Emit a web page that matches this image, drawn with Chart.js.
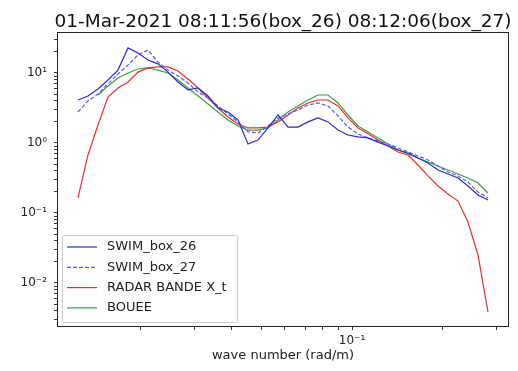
<!DOCTYPE html>
<html>
<head>
<meta charset="utf-8">
<script src="https://cdn.jsdelivr.net/npm/chart.js@4/dist/chart.umd.min.js"></script>
<style>
  body { margin: 0; background: #fff; }
  #wrap { width: 518px; height: 371px; }
</style>
</head>
<body>
<div id="wrap"><canvas id="spectreChart"></canvas></div>
<script>
// wave number grid (rad/m)
const waveNumber = [0.01238, 0.01336, 0.01442, 0.01556, 0.01679, 0.01813, 0.01956, 0.02111, 0.02278, 0.02459,
  0.02653, 0.02864, 0.03091, 0.03336, 0.0360, 0.03885, 0.04193, 0.04525, 0.04883, 0.0527,
  0.05689, 0.06139, 0.06625, 0.0715, 0.07717, 0.08328, 0.08988, 0.0970, 0.1047, 0.1130,
  0.1219, 0.1316, 0.1420, 0.1532, 0.1654, 0.1785, 0.1926, 0.2079, 0.2244, 0.2421,
  0.2613, 0.2820];

const swimBox26 = [4.11, 4.69, 5.91, 7.94, 11.0, 22.8, 19.3, 15.3, 13.5, 10.3,
  7.44, 5.72, 6.11, 4.69, 3.16, 2.77, 2.13, 0.968, 1.10, 1.64,
  2.51, 1.69, 1.69, 2.0, 2.28, 2.0, 1.53, 1.30, 1.22, 1.18,
  1.03, 0.906, 0.794, 0.72, 0.61, 0.518, 0.411, 0.361, 0.316, 0.243,
  0.181, 0.153];

const swimBox27 = [2.77, 3.98, 5.01, 6.96, 9.68, 13.0, 18.1, 21.3, 14.4, 11.0,
  9.06, 7.20, 5.35, 4.39, 3.38, 2.60, 2.0, 1.44, 1.39, 1.75,
  2.28, 2.60, 2.96, 3.49, 3.73, 3.38, 2.43, 1.69, 1.35, 1.18,
  1.07, 0.968, 0.849, 0.744, 0.652, 0.572, 0.469, 0.385, 0.338, 0.277,
  0.2, 0.164];

const radarBandeX = [0.164, 0.674, 1.81, 4.54, 6.11, 7.44, 10.3, 11.8, 12.2, 12.2,
  10.7, 8.21, 6.11, 4.39, 3.16, 2.35, 1.87, 1.64, 1.64, 1.69,
  2.0, 2.51, 3.16, 3.73, 4.11, 4.11, 3.38, 2.28, 1.64, 1.35,
  1.10, 0.906, 0.744, 0.674, 0.485, 0.338, 0.243, 0.187, 0.148, 0.0744,
  0.0251, 0.00385];

const bouee = [null, null, 4.85, 6.52, 8.48, 10.0, 11.4, 11.8, 11.0, 10.0,
  7.94, 6.11, 4.69, 3.61, 2.77, 2.13, 1.75, 1.53, 1.53, 1.64,
  2.13, 2.77, 3.38, 4.11, 4.85, 4.85, 3.73, 2.51, 1.75, 1.44,
  1.18, 0.968, 0.794, 0.697, 0.61, 0.535, 0.469, 0.411, 0.361, 0.316,
  0.268, 0.193];

// ticks
const xTicks = [0.02, 0.03, 0.04, 0.05, 0.06, 0.07, 0.08, 0.09, 0.1, 0.2, 0.3];
const xTickLabels = { 0.1: '10\u207B\u00B9' };
const yTicks = [0.003, 0.004, 0.005, 0.006, 0.007, 0.008, 0.009,
  0.01, 0.02, 0.03, 0.04, 0.05, 0.06, 0.07, 0.08, 0.09,
  0.1, 0.2, 0.3, 0.4, 0.5, 0.6, 0.7, 0.8, 0.9,
  1, 2, 3, 4, 5, 6, 7, 8, 9, 10, 20, 30];
const yTickLabels = { 10: '10\u00B9', 1: '10\u2070', 0.1: '10\u207B\u00B9', 0.01: '10\u207B\u00B2' };

const titleText = '01-Mar-2021 08:11:56(box_26) 08:12:06(box_27)';

function pts(values) {
  return waveNumber.map((k, i) => ({ x: k, y: values[i] }));
}

// frame, title and legend drawn the matplotlib way
const decor = {
  id: 'decor',
  afterDraw(chart) {
    const c = chart.ctx;
    const a = chart.chartArea;
    c.save();
    c.strokeStyle = '#222';
    c.lineWidth = 1;
    c.strokeRect(a.left + 0.5, a.top + 0.5, a.right - a.left - 1, a.bottom - a.top - 1);

    c.fillStyle = '#111';
    c.font = '18.5px "DejaVu Sans"';
    c.textAlign = 'center';
    c.textBaseline = 'alphabetic';
    c.fillText(titleText, (a.left + a.right) / 2, 27);

    // legend box
    const bx = 62, by = 235, bw = 175, bh = 87;
    c.fillStyle = 'rgba(255,255,255,0.8)';
    c.strokeStyle = '#cccccc';
    c.beginPath();
    c.roundRect(bx + 0.5, by + 0.5, bw, bh, 2);
    c.fill();
    c.stroke();
    c.font = '13px "DejaVu Sans"';
    c.textAlign = 'left';
    c.textBaseline = 'middle';
    chart.data.datasets.forEach((ds, i) => {
      const y = by + 12 + i * 20.3;
      c.strokeStyle = ds.borderColor;
      c.lineWidth = ds.borderWidth;
      c.setLineDash(ds.borderDash || []);
      c.beginPath();
      c.moveTo(67, y);
      c.lineTo(97, y);
      c.stroke();
      c.setLineDash([]);
      c.fillStyle = '#222';
      c.fillText(ds.label, 107, y);
    });
    c.restore();
  }
};

const ctx = document.getElementById('spectreChart').getContext('2d');

new Chart(ctx, {
  type: 'line',
  data: {
    datasets: [{
      label: 'SWIM_box_26',
      data: pts(swimBox26),
      borderColor: '#2b2bcf',
      borderWidth: 1.2,
    }, {
      label: 'SWIM_box_27',
      data: pts(swimBox27),
      borderColor: '#5b5bef',
      borderWidth: 1.2,
      borderDash: [4, 2],
    }, {
      label: 'RADAR BANDE X_t',
      data: pts(radarBandeX),
      borderColor: '#e5302a',
      borderWidth: 1.2,
    }, {
      label: 'BOUEE',
      data: pts(bouee),
      borderColor: '#38a046',
      borderWidth: 1.2,
    }]
  },
  options: {
    responsive: true,
    maintainAspectRatio: false,
    animation: false,
    elements: {
      point: { radius: 0 },
      line: { tension: 0, fill: false }
    },
    layout: {
      padding: { left: 0, right: 9, top: 32, bottom: 0 }
    },
    scales: {
      x: {
        type: 'logarithmic',
        min: 0.01055,
        max: 0.331,
        afterBuildTicks: s => { s.ticks = xTicks.map(v => ({ value: v })); },
        afterFit: s => { s.height = 44; },
        border: { display: false },
        grid: { drawOnChartArea: false, tickLength: 3, color: '#333' },
        ticks: {
          autoSkip: false,
          maxRotation: 0,
          padding: 4,
          color: '#222',
          font: { family: 'DejaVu Sans', size: 12 },
          callback: v => xTickLabels[v] || ''
        },
        title: {
          display: true,
          text: 'wave number (rad/m)',
          color: '#222',
          font: { family: 'DejaVu Sans', size: 13 },
          padding: { top: 0, bottom: 8 }
        }
      },
      y: {
        type: 'logarithmic',
        min: 0.00235,
        max: 38.5,
        afterBuildTicks: s => { s.ticks = yTicks.map(v => ({ value: v })); },
        afterFit: s => { s.width = 57; },
        border: { display: false },
        grid: { drawOnChartArea: false, tickLength: 3, color: '#333' },
        ticks: {
          autoSkip: false,
          padding: 7,
          color: '#222',
          font: { family: 'DejaVu Sans', size: 12 },
          callback: v => yTickLabels[v] || ''
        }
      }
    },
    plugins: {
      legend: { display: false },
      title: { display: false },
      tooltip: { enabled: false }
    }
  },
  plugins: [decor]
});
</script>
</body>
</html>
